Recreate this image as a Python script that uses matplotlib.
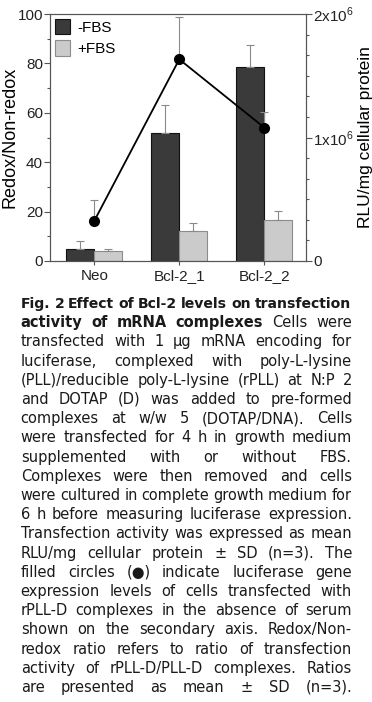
import numpy as np
import matplotlib
matplotlib.use('Agg')
import matplotlib.pyplot as plt
from matplotlib.ticker import MultipleLocator, AutoMinorLocator, FixedLocator, FixedFormatter

# -------------------------------
# Données
# -------------------------------
groups = ['Neo', 'Bcl-2_1', 'Bcl-2_2']
ratio_minus = [5.0, 52.0, 78.5]       # -FBS
ratio_minus_sd = [2.9, 11.0, 8.8]
ratio_plus = [4.0, 12.1, 16.6]        # +FBS
ratio_plus_sd = [0.7, 3.4, 3.6]
rlu = [0.324e6, 1.633e6, 1.08e6]      # RLU/mg cellular protein (axe secondaire)
rlu_sd = [0.17e6, 0.345e6, 0.13e6]

right_ticks = [0, 1e6, 2e6]
right_labels = ['0', '1x10$^{6}$', '2x10$^{6}$']

caption = [
    "Fig. 2 Effect of Bcl-2 levels on transfection",
    "activity of mRNA complexes Cells were",
    "transfected with 1 \u03bcg mRNA encoding for",
    "luciferase, complexed with poly-L-lysine",
    "(PLL)/reducible poly-L-lysine (rPLL) at N:P 2",
    "and DOTAP (D) was added to pre-formed",
    "complexes at w/w 5 (DOTAP/DNA). Cells",
    "were transfected for 4 h in growth medium",
    "supplemented with or without FBS.",
    "Complexes were then removed and cells",
    "were cultured in complete growth medium for",
    "6 h before measuring luciferase expression.",
    "Transfection activity was expressed as mean",
    "RLU/mg cellular protein \u00b1 SD (n=3). The",
    "filled circles (\u25cf) indicate luciferase gene",
    "expression levels of cells transfected with",
    "rPLL-D complexes in the absence of serum",
    "shown on the secondary axis. Redox/Non-",
    "redox ratio refers to ratio of transfection",
    "activity of rPLL-D/PLL-D complexes. Ratios",
    "are presented as mean \u00b1 SD (n=3).",
]
bold_words = [8, 4] + [0] * 19

# -------------------------------
# Style
# -------------------------------
plt.rcParams['font.family'] = ['Liberation Sans', 'DejaVu Sans']
plt.rcParams['mathtext.fontset'] = 'custom'
plt.rcParams['mathtext.rm'] = 'Liberation Sans'
plt.rcParams['axes.edgecolor'] = '#555555'
plt.rcParams['xtick.color'] = '#555555'
plt.rcParams['ytick.color'] = '#555555'
plt.rcParams['xtick.labelcolor'] = '#222222'
plt.rcParams['ytick.labelcolor'] = '#222222'

W, H = 372, 702
fig = plt.figure(figsize=(W / 100, H / 100), dpi=100)
ax = fig.add_axes([50 / W, 1 - 261 / H, 256 / W, 247 / H])

x = np.arange(len(groups))
w = 0.33
dark = '#3a3a3a'
light = '#cbcbcb'

ax.bar(x - w / 2, ratio_minus, w, color=dark, edgecolor='#111111', lw=0.8, label='-FBS', zorder=2)
ax.bar(x + w / 2, ratio_plus, w, color=light, edgecolor='#8c8c8c', lw=0.8, label='+FBS', zorder=2)
ax.errorbar(x - w / 2, ratio_minus, yerr=[np.zeros(3), ratio_minus_sd], fmt='none',
            ecolor='#8a8a8a', elinewidth=0.8, capsize=3, capthick=0.8, zorder=3)
ax.errorbar(x + w / 2, ratio_plus, yerr=[np.zeros(3), ratio_plus_sd], fmt='none',
            ecolor='#8a8a8a', elinewidth=0.8, capsize=3, capthick=0.8, zorder=3)

ax.set_xlim(-0.52, 2.49)
ax.set_ylim(0, 100)
ax.yaxis.set_major_locator(MultipleLocator(20))
ax.yaxis.set_minor_locator(MultipleLocator(10))
ax.set_xticks(x)
ax.set_xticklabels(groups, fontsize=11)
ax.tick_params(axis='y', labelsize=11, length=4, width=0.8, pad=1)
ax.tick_params(axis='y', which='minor', length=2.5, width=0.8)
ax.tick_params(axis='x', length=3, width=0.8, pad=3)
ax.set_ylabel('Redox/Non-redox', fontsize=13, labelpad=-1)

ax.legend(loc='upper left', frameon=False, fontsize=11, handlelength=1.0, handleheight=1.2,
          handletextpad=0.5, labelspacing=0.35, borderaxespad=0.2, borderpad=0.1)

# axe secondaire : RLU
ax2 = ax.twinx()
ax2.errorbar(x, rlu, yerr=[np.zeros(3), rlu_sd], color='black', lw=1.3, marker='o', ms=7,
             ecolor='#8a8a8a', elinewidth=0.8, capsize=3, capthick=0.8)
ax2.set_ylim(0, 2e6)
ax2.yaxis.set_major_locator(FixedLocator(right_ticks))
ax2.yaxis.set_major_formatter(FixedFormatter(right_labels))
ax2.yaxis.set_minor_locator(AutoMinorLocator(6))
ax2.tick_params(axis='y', labelsize=11, length=4, width=0.8, pad=1)
ax2.tick_params(axis='y', which='minor', length=2.5, width=0.8)
ax2.set_ylabel('RLU/mg cellular protein', fontsize=12.5, labelpad=3)

# -------------------------------
# Légende de la figure (texte justifié)
# -------------------------------
r = fig.canvas.get_renderer()
x0, x1 = 20.7, 352.0
y_first, dy = 308.0, 19.2
size0, min_gap = 10.5, 3.8
for i, line in enumerate(caption):
    words = line.split(' ')
    texts = []
    widths = []
    for j, word in enumerate(words):
        t = fig.text(0, 0, word, fontsize=size0, family=['DejaVu Sans'],
                     fontweight='bold' if j < bold_words[i] else 'normal',
                     color='#1a1a1a', va='baseline', ha='left')
        widths.append(t.get_window_extent(r).width)
        texts.append(t)
    n_gaps = max(len(words) - 1, 1)
    avail = x1 - x0 - n_gaps * min_gap
    if sum(widths) > avail:
        # ligne trop longue : on réduit un peu la taille
        k = avail / sum(widths)
        for t in texts:
            t.set_fontsize(size0 * k)
        widths = [wd * k for wd in widths]
    gap = (x1 - x0 - sum(widths)) / n_gaps
    xp = x0
    yp = y_first + i * dy
    for t, wd in zip(texts, widths):
        t.set_position((xp / W, 1 - yp / H))
        xp += wd + gap

fig.savefig('out.png', dpi=100)
